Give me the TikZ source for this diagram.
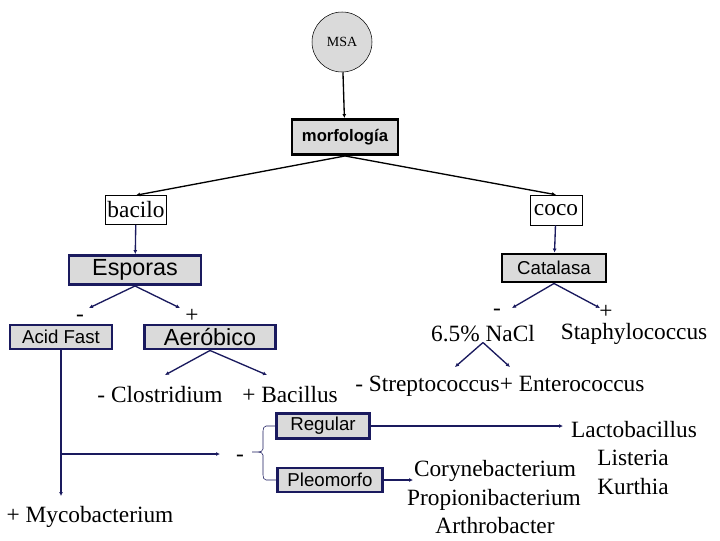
\documentclass[tikz,border=0pt]{standalone}
\usepackage{fontspec}
\setmainfont{Liberation Serif}
\setsansfont{Liberation Sans}
\usetikzlibrary{arrows.meta}
\definecolor{navy}{HTML}{1A1A5E}
\definecolor{boxgray}{HTML}{DADADA}
\begin{document}
\begin{tikzpicture}[x=0.75pt,y=-0.75pt,
  txt/.style={font=\fontsize{17.5}{19}\selectfont, inner sep=0pt},
  sbox/.style={draw=navy, line width=2.2pt, fill=boxgray, inner sep=0pt, font=\sffamily},
  ar/.style={-{Latex[length=3pt,width=3pt]}, line width=1pt},
  nav/.style={ar, draw=navy}]
\useasboundingbox (0,0) rectangle (720,540);
\node[circle, draw, fill=boxgray, minimum size=60*0.75pt, inner sep=0pt, font=\fontsize{10.5}{12}\selectfont] (msa) at (342,42) {MSA};
\node[sbox, draw=black, minimum width=106*0.75pt, minimum height=35*0.75pt, font=\sffamily\bfseries\fontsize{12.5}{14}\selectfont] (morf) at (345,137) {morfología};
\node[draw, thin, fill=white, minimum width=61*0.75pt, minimum height=29*0.75pt, inner sep=0pt, txt] (bac) at (136,210) {bacilo};
\node[draw, thin, fill=white, minimum width=52*0.75pt, minimum height=30*0.75pt, inner sep=0pt, txt] (coco) at (556,210) {coco};
\draw[ar] (msa) -- (morf);
\draw[ar] (morf.south) -- (bac.north);
\draw[ar] (morf.south) -- (coco.north);
\node[sbox, minimum width=132*0.75pt, minimum height=29*0.75pt, font=\sffamily\fontsize{17.5}{19}\selectfont] (esp) at (135,270) {Esporas};
\node[sbox, draw=black, minimum width=104*0.75pt, minimum height=28*0.75pt, font=\sffamily\fontsize{14}{16}\selectfont] (cat) at (554,268) {Catalasa};
\draw[nav] (bac) -- (esp);
\draw[nav] (coco) -- (cat);
\coordinate (e1) at (89,308); \coordinate (e2) at (180,308);
\draw[nav] (esp.south) -- (e1);
\draw[nav] (esp.south) -- (e2);
\node[txt] (m1) at (80,318) {-};
\node[txt] (p1) at (192,316) {+};
\node[sbox, minimum width=102*0.75pt, minimum height=24*0.75pt, font=\sffamily\fontsize{14}{16}\selectfont] (af) at (61,337) {Acid Fast};
\node[sbox, minimum width=131*0.75pt, minimum height=24*0.75pt, font=\sffamily\fontsize{17.5}{19}\selectfont] (aer) at (210,337) {Aeróbico};
\coordinate (c1) at (512,308); \coordinate (c2) at (600,308);
\draw[nav] (cat.south) -- (c1);
\draw[nav] (cat.south) -- (c2);
\node[txt] (m2) at (497,312) {-};
\node[txt] (p2) at (606,312) {+};
\node[txt] (nacl) at (483,334) {6.5\% NaCl};
\node[txt] (sta) at (634,334) {Staphylococcus};
\coordinate (n1) at (455,367); \coordinate (n2) at (510,367);
\draw[nav] (nacl.south) -- (n1);
\draw[nav] (nacl.south) -- (n2);
\node[txt, anchor=west] (str) at (355,386) {- Streptococcus+ Enterococcus};
\coordinate (a1) at (165,375); \coordinate (a2) at (267,375);
\draw[nav] (aer.south) -- (a1);
\draw[nav] (aer.south) -- (a2);
\node[txt] (clo) at (160,395) {- Clostridium};
\node[txt] (bacil) at (290,395) {+ Bacillus};
\coordinate (myc0) at (61,496);
\coordinate (hz) at (61,454);
\coordinate (hz2) at (220,454);
\draw[nav] (af.south) -- (myc0);
\draw[nav] (hz) -- (hz2);
\node[txt] (myc) at (90,517) {+ Mycobacterium};
\node[txt] (m3) at (240,458) {-};
\node[sbox, minimum width=93*0.75pt, minimum height=25*0.75pt, font=\sffamily\fontsize{14}{16}\selectfont] (reg) at (323,426) {Regular};
\node[sbox, minimum width=105*0.75pt, minimum height=24*0.75pt, font=\sffamily\fontsize{14}{16}\selectfont] (pleo) at (330,480) {Pleomorfo};
\draw[navy, thin] (reg.west) -- (266,426) to[out=180,in=90] (263,431) -- (263,449) to[out=-90,in=0] (258,452) -- (252,452);
\draw[navy, thin] (pleo.west) -- (266,480) to[out=180,in=-90] (263,475) -- (263,455) to[out=90,in=0] (258,452);
\coordinate (lac0) at (563,426);
\draw[nav] (reg.east) -- (lac0);
\node[txt] (lac) at (634,430) {Lactobacillus};
\node[txt] (lis) at (633,458) {Listeria};
\node[txt] (kur) at (633,487) {Kurthia};
\coordinate (cor0) at (413,480);
\draw[nav] (pleo.east) -- (cor0);
\node[txt] (cor) at (495,471) {Corynebacterium};
\node[txt] (pro) at (494,500) {Propionibacterium};
\node[txt] (art) at (495,526) {Arthrobacter};
\end{tikzpicture}
\end{document}
